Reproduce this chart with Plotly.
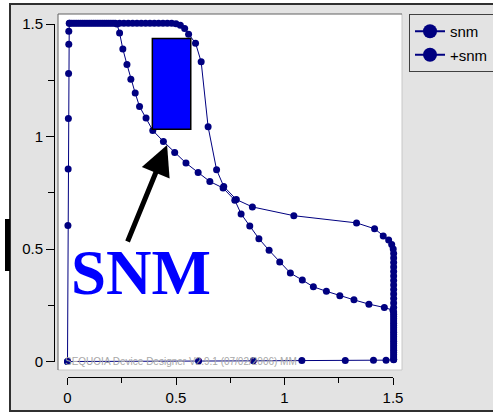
import plotly.graph_objects as go

W, H = 493, 414

# ---------------- data ----------------
# trace "snm": outer butterfly lobe (left edge, top, transition, mirrored transition, right edge, bottom)
snm_x = [0.000, 0.002, 0.003, 0.004, 0.005, 0.006, 0.006,
         0.008, 0.02, 0.04, 0.06, 0.08, 0.10, 0.12, 0.14, 0.16, 0.18, 0.20, 0.22, 0.24,
         0.26, 0.28, 0.30, 0.32, 0.34, 0.36, 0.38, 0.40, 0.42, 0.44, 0.46, 0.48,
         0.500, 0.520, 0.540, 0.558, 0.590, 0.616, 0.648, 0.687, 0.720,
         0.778, 0.852, 1.043, 1.332, 1.415, 1.455, 1.480, 1.494, 1.501,
         1.503, 1.503, 1.503, 1.503, 1.503, 1.503, 1.503, 1.503, 1.503, 1.503, 1.503, 1.503,
         1.503, 1.503, 1.503, 1.503, 1.503, 1.503, 1.503, 1.503, 1.503, 1.503, 1.503, 1.503, 1.503,
         1.468, 1.410, 1.280, 1.080, 0.856, 0.604, 0.000]
snm_y = [0.000, 0.604, 0.856, 1.080, 1.280, 1.410, 1.468,
         1.503, 1.503, 1.503, 1.503, 1.503, 1.503, 1.503, 1.503, 1.503, 1.503, 1.503, 1.503, 1.503,
         1.503, 1.503, 1.503, 1.503, 1.503, 1.503, 1.503, 1.503, 1.503, 1.503, 1.503, 1.503,
         1.501, 1.494, 1.480, 1.455, 1.415, 1.332, 1.043, 0.852, 0.778,
         0.720, 0.687, 0.648, 0.616, 0.590, 0.558, 0.540, 0.520, 0.500,
         0.48, 0.46, 0.44, 0.42, 0.40, 0.38, 0.36, 0.34, 0.32, 0.30, 0.28, 0.26,
         0.24, 0.22, 0.20, 0.18, 0.16, 0.14, 0.12, 0.10, 0.08, 0.06, 0.04, 0.02, 0.008,
         0.006, 0.006, 0.005, 0.004, 0.003, 0.002, 0.000]

# trace "+snm": shifted (symmetric) curve
psnm_x = [0.01, 0.03, 0.05, 0.07, 0.09, 0.11, 0.13, 0.15, 0.17, 0.19, 0.21,
          0.228, 0.240, 0.255, 0.274, 0.292, 0.312, 0.332, 0.362, 0.393, 0.442, 0.494,
          0.546, 0.602, 0.656, 0.717,
          0.771, 0.800, 0.840, 0.882, 0.929, 0.978, 1.027, 1.082, 1.133, 1.193, 1.255,
          1.320, 1.389, 1.460, 1.500,
          1.503, 1.503, 1.503, 1.503, 1.503, 1.503, 1.503, 1.503, 1.503, 1.503, 1.503]
psnm_y = [1.503, 1.503, 1.503, 1.503, 1.503, 1.503, 1.503, 1.503, 1.503, 1.503, 1.503,
          1.500, 1.460, 1.389, 1.320, 1.255, 1.193, 1.133, 1.082, 1.027, 0.978, 0.929,
          0.882, 0.840, 0.800, 0.771,
          0.717, 0.656, 0.602, 0.546, 0.494, 0.442, 0.393, 0.362, 0.332, 0.312, 0.292,
          0.274, 0.255, 0.240, 0.228,
          0.21, 0.19, 0.17, 0.15, 0.13, 0.11, 0.09, 0.07, 0.05, 0.03, 0.01]

series_names = ["snm", "+snm"]
tick_vals = [0, 0.5, 1, 1.5]
tick_text = ["0", "0.5", "1", "1.5"]
minor_vals = [0.25, 0.75, 1.25]

# SNM square (x0, x1, y0, y1) and arrow (tail -> tip)
snm_box = (0.391, 0.568, 1.032, 1.436)
arrow_tail = (0.274, 0.527)
arrow_tip = (0.459, 0.962)

NAVY = "#000080"

# ---------------- layout helpers ----------------
def px_x(p):
    return p / W

def px_y(p):
    return 1 - p / H

# pixel geometry
X0PX, XSCALE = 67.5, 217.0     # data 0 at px 67.5, 217 px per unit
Y0PX, YSCALE = 361.5, 225.0
PLOT_L, PLOT_R, PLOT_T, PLOT_B = 58, 402, 14, 370

fig = go.Figure()

for xs, ys, nm in [(snm_x, snm_y, series_names[0]), (psnm_x, psnm_y, series_names[1])]:
    fig.add_trace(go.Scatter(x=xs, y=ys, mode="lines+markers", name=nm,
                             line=dict(color=NAVY, width=1),
                             marker=dict(color=NAVY, size=7),
                             showlegend=False, hoverinfo="skip", cliponaxis=False))

# legend entries
for i, nm in enumerate(series_names):
    fig.add_trace(go.Scatter(x=[None], y=[None], mode="lines+markers", name=nm,
                             legendgroup=nm,
                             line=dict(color=NAVY, width=2),
                             marker=dict(color=NAVY, size=14)))

# invisible trace to create decorative axes
fig.add_trace(go.Scatter(x=[0, 1.5], y=[0, 1.5], xaxis="x2", yaxis="y2", mode="markers",
                         marker=dict(opacity=0), showlegend=False, hoverinfo="skip"))

xr = [(PLOT_L - X0PX) / XSCALE, (PLOT_R - X0PX) / XSCALE]
yr = [(Y0PX - PLOT_B) / YSCALE, (Y0PX - PLOT_T) / YSCALE]

tickfont = dict(family="Liberation Sans, Arial, sans-serif", size=15, color="black")

fig.update_layout(
    width=W, height=H,
    margin=dict(l=0, r=0, t=0, b=0, pad=0, autoexpand=False),
    paper_bgcolor="white",
    plot_bgcolor="rgba(0,0,0,0)",
    xaxis=dict(domain=[px_x(PLOT_L), px_x(PLOT_R)], range=xr, visible=False, fixedrange=True),
    yaxis=dict(domain=[px_y(PLOT_B), px_y(PLOT_T)], range=yr, visible=False, fixedrange=True),
    xaxis2=dict(domain=[px_x(X0PX), px_x(X0PX + 1.5 * XSCALE)], range=[0, 1.5],
                anchor="free", position=px_y(377),
                showline=True, linecolor="black", linewidth=1,
                ticks="outside", ticklen=7, tickcolor="black",
                tickmode="array", tickvals=tick_vals, ticktext=tick_text,
                minor=dict(tickmode="array", tickvals=minor_vals, ticks="outside", ticklen=5, tickcolor="black"),
                tickfont=tickfont, showgrid=False, zeroline=False, fixedrange=True),
    yaxis2=dict(domain=[px_y(Y0PX), px_y(Y0PX - 1.5 * YSCALE)], range=[0, 1.5],
                anchor="free", position=px_x(54),
                showline=True, linecolor="black", linewidth=1,
                ticks="outside", ticklen=8, tickcolor="black",
                tickmode="array", tickvals=tick_vals, ticktext=tick_text,
                minor=dict(tickmode="array", tickvals=minor_vals, ticks="outside", ticklen=6, tickcolor="black"),
                tickfont=tickfont, showgrid=False, zeroline=False, fixedrange=True),
    legend=dict(x=px_x(409), y=px_y(14), xanchor="left", yanchor="top",
                bgcolor="#e3e3e3", bordercolor="#404040", borderwidth=1,
                font=dict(family="Liberation Sans, Arial, sans-serif", size=15, color="black"),
                traceorder="grouped", tracegroupgap=1, itemwidth=30,
                entrywidth=70, entrywidthmode="pixels"),
    showlegend=True,
)

shapes = [
    # outer grey frame
    dict(type="rect", xref="paper", yref="paper", x0=px_x(10), x1=1.0, y0=px_y(410), y1=px_y(4),
         fillcolor="#e3e3e3", line=dict(width=0), layer="below"),
    dict(type="line", xref="paper", yref="paper", x0=px_x(9), x1=1.0, y0=px_y(4), y1=px_y(4),
         line=dict(color="#303030", width=2), layer="below"),
    dict(type="line", xref="paper", yref="paper", x0=px_x(10), x1=px_x(10), y0=px_y(411), y1=px_y(4),
         line=dict(color="#303030", width=2), layer="below"),
    dict(type="line", xref="paper", yref="paper", x0=px_x(9), x1=1.0, y0=px_y(411), y1=px_y(411),
         line=dict(color="#303030", width=2), layer="below"),
    dict(type="rect", xref="paper", yref="paper", x0=px_x(5), x1=px_x(10), y0=px_y(271), y1=px_y(219),
         fillcolor="black", line=dict(width=0), layer="below"),
    # white plotting area with bevel
    dict(type="rect", xref="x domain", yref="y domain", x0=0, x1=1, y0=0, y1=1,
         fillcolor="white", line=dict(width=0), layer="below"),
    dict(type="line", xref="x domain", yref="y domain", x0=0, x1=1, y0=0, y1=0,
         line=dict(color="#c8c8c8", width=1), layer="below"),
    dict(type="line", xref="x domain", yref="y domain", x0=1, x1=1, y0=0, y1=1,
         line=dict(color="#c8c8c8", width=1), layer="below"),
    dict(type="line", xref="x domain", yref="y domain", x0=0, x1=1, y0=1, y1=1,
         line=dict(color="#606060", width=1), layer="below"),
    dict(type="line", xref="x domain", yref="y domain", x0=0, x1=0, y0=0, y1=1,
         line=dict(color="#606060", width=1), layer="below"),
    # SNM square
    dict(type="rect", xref="x", yref="y", x0=snm_box[0], x1=snm_box[1], y0=snm_box[2], y1=snm_box[3],
         fillcolor="#0000ff", line=dict(color="black", width=1.5), layer="above"),
]
fig.update_layout(shapes=shapes)

fig.add_annotation(x=arrow_tip[0], y=arrow_tip[1], ax=arrow_tail[0], ay=arrow_tail[1],
                   xref="x", yref="y", axref="x", ayref="y", text="",
                   showarrow=True, arrowhead=2, arrowwidth=5, arrowsize=1.2, arrowcolor="black")
fig.add_annotation(x=0.339, y=0.393, xref="x", yref="y", text="<b>SNM</b>", showarrow=False,
                   font=dict(family="Liberation Serif, Times New Roman, serif", size=63, color="#0000ff"),
                   xanchor="center", yanchor="middle")
fig.add_annotation(x=px_x(63), y=px_y(361), xref="paper", yref="paper",
                   text="SEQUOIA Device Designer V2.9.1 (07/02/2006) MM", showarrow=False,
                   font=dict(family="Liberation Sans, Arial, sans-serif", size=10, color="#a8a8a8"),
                   xanchor="left", yanchor="middle")

fig.write_html("out.html")
